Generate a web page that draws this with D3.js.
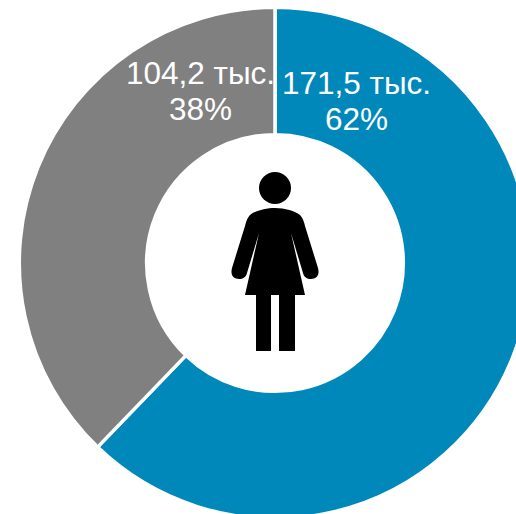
<!DOCTYPE html>
<html><head><meta charset="utf-8">
<script src="https://cdn.jsdelivr.net/npm/d3@7"></script>
<style>html,body{margin:0;padding:0;background:#fff;overflow:hidden}svg{display:block}text{font-family:"Liberation Sans",Arial,sans-serif;fill:#fff;text-anchor:middle}</style>
</head><body><svg id="c" width="516" height="514"></svg>
<script>
const categories = ["Женщины, в категории A", "Женщины, в категории B"];
const values = [171.5, 104.2];
const valueLabels = ["171,5 тыс.", "104,2 тыс."];
const percentLabels = ["62%", "38%"];
const colors = ["#0088BB", "#808080"];

const svg = d3.select("#c");
const cx = 275, cy = 263, outer = 255.7, inner = 128.3;
const g = svg.append("g").attr("transform", `translate(${cx},${cy})`);
const pie = d3.pie().sort(null)(values);
const arc = d3.arc().innerRadius(inner).outerRadius(outer);
g.selectAll("path.s").data(pie).join("path").attr("class","s")
  .attr("d", arc).attr("fill",(d,i)=>colors[i]).attr("stroke","#fff").attr("stroke-width",3.5);

const labelAt = [[356.5,94],[200.5,84]];
const lineGap = 36;
const fs = 31.5;
categories.forEach((c,i)=>{
  const t = svg.append("text").attr("font-size",fs);
  t.append("tspan").attr("x",labelAt[i][0]).attr("y",labelAt[i][1]).text(valueLabels[i]);
  t.append("tspan").attr("x",labelAt[i][0]).attr("y",labelAt[i][1]+lineGap).text(percentLabels[i]);
});

// pictogram of a woman
const icon = svg.append("g").attr("fill","#000");
icon.append("circle").attr("cx",275).attr("cy",188).attr("r",16);
icon.append("path").attr("d","M275 208 C265 208 255 211 250 215 C247 218 246 222 245 226 L232 268 C230 276 234 279 239 279 C243 279 246 277 247 273 L259 233 L245 295 L256 295 L256 351 L271 351 L271 295 L279 295 L279 351 L295 351 L295 295 L305 295 L291 233 L303 273 C304 277 307 279 311 279 C316 279 320 276 318 268 L305 226 C304 222 303 218 300 215 C295 211 285 208 275 208 Z");
</script></body></html>
